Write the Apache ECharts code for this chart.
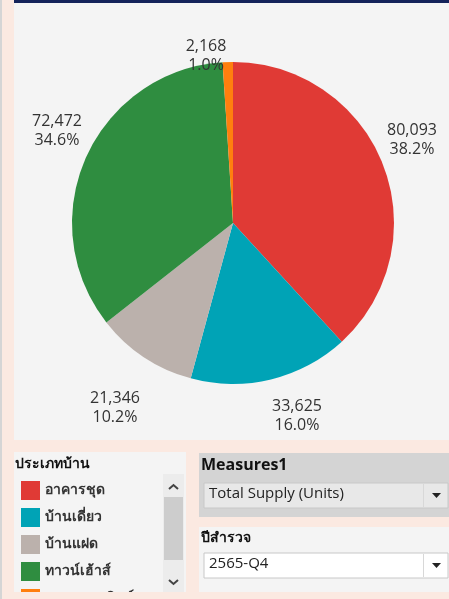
<!DOCTYPE html>
<html>
<head>
<meta charset="utf-8">
<script src="https://cdn.jsdelivr.net/npm/echarts@6/dist/echarts.min.js"></script>
<style>
  html, body { margin: 0; padding: 0; background: #fbe9e1; }
  #mycharts { width: 449px; height: 599px; }
</style>
</head>
<body>
<div id="mycharts"></div>
<script>
// ประเภทบ้าน / Total Supply (Units), 2565-Q4
var categories = ["อาคารชุด", "บ้านเดี่ยว", "บ้านแฝด", "ทาวน์เฮ้าส์", "อาคารพาณิชย์"];
var supplyValues = [80093, 33625, 21346, 72472, 2168];
var sliceColors = ["#e03a35", "#00a3b6", "#bbb1ac", "#2f8d40", "#ff7f0e"];

var font = "'Open Sans', 'Noto Sans', sans-serif";
var myCharts = echarts.init(document.getElementById("mycharts"));

var pieData = categories.map(function (c, i) {
  return { name: c, value: supplyValues[i], itemStyle: { color: sliceColors[i] } };
});

// tableau puts its labels a bit off the radial line, nudge them the same way
function placeLabel(params) {
  var spot = [[412, 140], [297, 416], [115, 408], [57, 131], [206, 56]][params.dataIndex];
  return { x: spot[0], y: spot[1], align: "center", verticalAlign: "middle" };
}

var option = {
  backgroundColor: "#fbe9e1",
  animation: false,
  legend: {
    orient: "vertical",
    left: 16,
    top: 476,
    height: 300,
    icon: "rect",
    itemWidth: 19,
    itemHeight: 19,
    itemGap: 8,
    selectedMode: false,
    z: 5,
    textStyle: { fontFamily: font, fontSize: 14, fontWeight: "bold", color: "#333" },
    data: categories
  },
  graphic: [
    { type: "rect", z: 0, shape: { x: 0, y: 0, width: 2, height: 599 }, style: { fill: "#d5d5d5" } },
    { type: "rect", z: 0, shape: { x: 14, y: 3, width: 435, height: 437 }, style: { fill: "#f4f4f4" } },
    { type: "rect", z: 0, shape: { x: 14, y: 0, width: 435, height: 3 }, style: { fill: "#14235a" } },
    // legend panel
    { type: "rect", z: 0, shape: { x: 14, y: 452, width: 172, height: 140 }, style: { fill: "#f4f4f4" } },
    { type: "text", z: 1, x: 15, y: 457, style: { text: "ประเภทบ้าน", font: "bold 14px " + font, fill: "#111" } },
    { type: "rect", z: 6, shape: { x: 163, y: 474, width: 21, height: 118 }, style: { fill: "#ececec" } },
    { type: "rect", z: 6, shape: { x: 164, y: 497, width: 19, height: 63 }, style: { fill: "#cdcdcd" } },
    { type: "polyline", z: 6, shape: { points: [[169, 489], [173.5, 485], [178, 489]] }, style: { stroke: "#444", lineWidth: 2, fill: null } },
    { type: "polyline", z: 6, shape: { points: [[169, 580], [173.5, 584], [178, 580]] }, style: { stroke: "#444", lineWidth: 2, fill: null } },
    { type: "rect", z: 10, shape: { x: 2, y: 592, width: 447, height: 7 }, style: { fill: "#fbe9e1" } },
    // Measures1 panel
    { type: "rect", z: 0, shape: { x: 199, y: 453, width: 250, height: 64 }, style: { fill: "#d4d4d4" } },
    { type: "text", z: 1, x: 201, y: 457, style: { text: "Measures1", font: "bold 16px " + font, fill: "#111" } },
    { type: "rect", z: 1, shape: { x: 204, y: 483, width: 244, height: 25 }, style: { fill: "#e8e8e8", stroke: "#c8c8c8", lineWidth: 1 } },
    { type: "text", z: 2, x: 209, y: 486, style: { text: "Total Supply (Units)", font: "15px " + font, fill: "#222" } },
    { type: "line", z: 2, shape: { x1: 423.5, y1: 484, x2: 423.5, y2: 507 }, style: { stroke: "#d8d8d8" } },
    { type: "polygon", z: 2, shape: { points: [[432, 493], [441, 493], [436.5, 498]] }, style: { fill: "#222" } },
    // ปีสำรวจ panel
    { type: "rect", z: 0, shape: { x: 199, y: 527, width: 250, height: 65 }, style: { fill: "#f4f4f4" } },
    { type: "text", z: 1, x: 201, y: 531, style: { text: "ปีสำรวจ", font: "bold 14px " + font, fill: "#111" } },
    { type: "rect", z: 1, shape: { x: 204, y: 553, width: 244, height: 25 }, style: { fill: "#ffffff", stroke: "#c8c8c8", lineWidth: 1 } },
    { type: "text", z: 2, x: 209, y: 556, style: { text: "2565-Q4", font: "15px " + font, fill: "#222" } },
    { type: "line", z: 2, shape: { x1: 423.5, y1: 554, x2: 423.5, y2: 577 }, style: { stroke: "#d8d8d8" } },
    { type: "polygon", z: 2, shape: { points: [[432, 563], [441, 563], [436.5, 568]] }, style: { fill: "#222" } }
  ],
  series: [
    {
      type: "pie",
      center: [233, 223],
      radius: 161,
      startAngle: 90,
      clockwise: true,
      z: 3,
      emphasis: { disabled: true },
      label: {
        show: true,
        position: "outside",
        overflow: "none",
        fontFamily: font,
        fontSize: 16,
        lineHeight: 19,
        color: "#333",
        formatter: function (p) {
          return p.value.toLocaleString("en-US") + "\n" + p.percent.toFixed(1) + "%";
        }
      },
      labelLine: { show: false },
      labelLayout: placeLabel,
      data: pieData
    }
  ]
};

myCharts.setOption(option);
</script>
</body>
</html>
